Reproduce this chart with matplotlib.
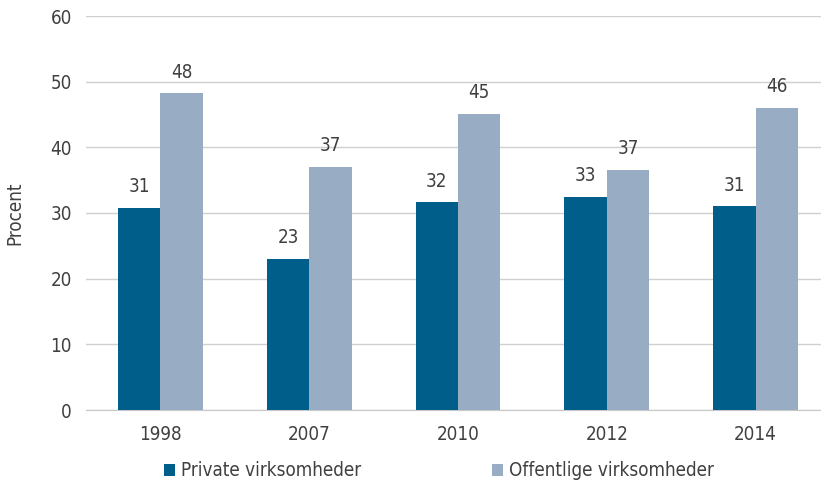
import numpy as np
import matplotlib.pyplot as plt

years = ['1998', '2007', '2010', '2012', '2014']
private = [30.8, 23.0, 31.6, 32.5, 31.0]
offentlig = [48.2, 37.0, 45.1, 36.5, 46.0]
private_lbl = [31, 23, 32, 33, 31]
offentlig_lbl = [48, 37, 45, 37, 46]

c_priv = '#005f8a'
c_off = '#98adc4'
txt = '#404040'

plt.rcParams['font.family'] = ['DejaVu Sans']
plt.rcParams['font.stretch'] = 'condensed'

fig = plt.figure(figsize=(8.21, 4.84), dpi=100)
ax = fig.add_axes([86 / 821, 74 / 484, 735 / 821, 394 / 484])

x = np.arange(len(years))
w = 0.285
b1 = ax.bar(x - w / 2, private, w, color=c_priv, label='Private virksomheder', zorder=3)
b2 = ax.bar(x + w / 2, offentlig, w, color=c_off, label='Offentlige virksomheder', zorder=3)

for rect, v in zip(b1, private_lbl):
    ax.text(rect.get_x() + rect.get_width() / 2, rect.get_height() + 1.8, str(v),
            ha='center', va='bottom', fontsize=13.5, color=txt)
for rect, v in zip(b2, offentlig_lbl):
    ax.text(rect.get_x() + rect.get_width() / 2, rect.get_height() + 1.8, str(v),
            ha='center', va='bottom', fontsize=13.5, color=txt)

ax.set_ylim(0, 60)
ax.set_xlim(-0.5, 4.44)
ax.set_yticks(range(0, 61, 10))
ax.set_xticks(x)
ax.set_xticklabels(years)
ax.yaxis.grid(True, color='#d0d0d0', linewidth=1, zorder=0)
for s in ['top', 'right', 'left']:
    ax.spines[s].set_visible(False)
ax.spines['bottom'].set_color('#c8c8c8')
ax.tick_params(axis='both', length=0, labelsize=13.5, labelcolor=txt)
ax.tick_params(axis='y', pad=10)
ax.tick_params(axis='x', pad=11)
ax.set_ylabel('Procent', fontsize=13.5, color=txt, labelpad=19)

fig.legend(handles=[b1, b2], loc='center left', bbox_to_anchor=(147 / 821, 13 / 484),
           ncol=2, frameon=False, fontsize=13.5, labelcolor=txt,
           handlelength=0.6, handleheight=0.6, handletextpad=0.3, columnspacing=7.0)

fig.savefig('out.png', dpi=100)
